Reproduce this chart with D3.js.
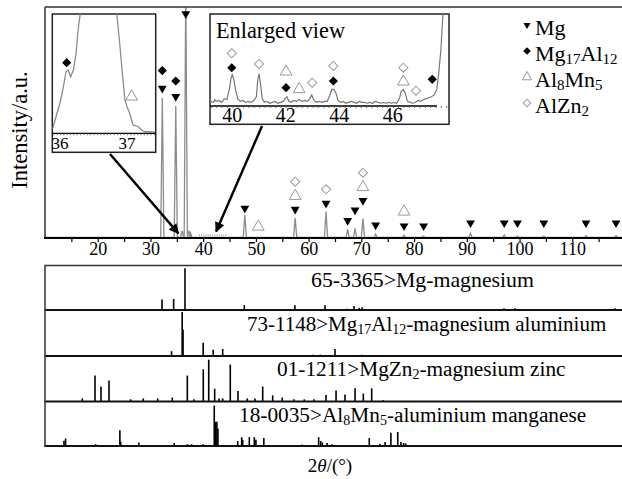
<!DOCTYPE html>
<html><head><meta charset="utf-8">
<script src="https://cdn.jsdelivr.net/npm/d3@7/dist/d3.min.js"></script>
<style>body{margin:0;background:#fff}svg{display:block}svg text{font-family:"Liberation Serif","Times New Roman",serif}</style>
</head><body><svg width="622" height="479"></svg>
<script>
// ---------- DATA ----------
// main pattern peaks [2theta, intensity]
const mainPeaks = [[32.25,60.5],[34.8,57],[36.0,3],[36.7,110],[37.3,3],[37.6,2],[47.9,9.8],[57.45,8.4],[63.3,11.3],[67.4,3.6],[68.8,4],[70.3,8.2],[72.7,1.5],[78.1,1],[81.8,0.6],[90.7,1.8],[97.1,1.1],[99.6,0.6],[104.6,0.6],[112.6,0.8],[118.3,0.8]];
const noiseRange = [39.2, 44.5];
// phase markers in main panel [2theta, level]
const mgMarks = [[32.25,64.7],[34.8,61.1],[36.7,97],[47.9,12.7],[57.45,12.2],[63.3,14.8],[67.4,7.3],[68.8,11.9],[70.3,16],[72.7,5.4],[78.1,5],[81.8,5],[90.7,6.3],[97.1,6.3],[99.6,6.3],[104.6,6.3],[112.6,6.3],[118.3,6.3]];
const mg17Marks = [[32.25,72.4],[34.8,67.9]];
const al8Marks = [[50.45,4.7],[57.45,18],[70.3,21.8],[78.1,11.2]];
const alzn2Marks = [[57.45,24.2],[63.3,20.9],[70.3,28.1]];
const mainTicks = [20,30,40,50,60,70,80,90,100,110];

// left inset curve
const inset1Curve = [[35.88,4],[35.9,5.5],[35.94,13.9],[36.0,25.4],[36.05,39],[36.09,51.6],[36.12,53],[36.16,47.4],[36.2,53],[36.24,67],[36.27,86.6],[36.3,99.2],[36.33,120],[36.6,200],[36.82,120],[36.85,99.2],[36.9,70],[36.94,44.7],[36.97,27.9],[37.0,22.3],[37.04,16.8],[37.09,7],[37.17,5.5],[37.22,2.8],[37.27,1.3],[37.32,1.3],[37.42,1]];
const inset1Ticks = [36,37];
const inset1Mg17 = [[36.1,59.2]];
const inset1Al8 = [[37.07,30.7]];

// right inset ("Enlarged view") curve
const inset2Curve = [[39.16,5],[39.2,5],[39.3,4],[39.35,7],[39.4,5],[39.5,6],[39.6,4],[39.7,8],[39.8,7],[39.9,20],[39.95,30],[40.0,34],[40.05,30],[40.12,18],[40.2,8],[40.3,5],[40.4,6],[40.5,4],[40.6,5],[40.7,4],[40.8,6],[40.9,10],[40.95,28],[41.0,35],[41.05,25],[41.12,8],[41.2,4],[41.3,5],[41.4,3],[41.5,4],[41.6,5],[41.7,3],[41.8,4],[41.9,5],[42.0,9],[42.05,10],[42.12,5],[42.2,4],[42.3,6],[42.4,5],[42.5,7],[42.6,5],[42.7,6],[42.8,5],[42.9,8],[42.97,12],[43.05,6],[43.15,4],[43.25,5],[43.35,4],[43.45,5],[43.55,5],[43.65,12],[43.72,18],[43.8,18],[43.88,14],[43.95,6],[44.05,4],[44.15,5],[44.25,3],[44.35,4],[44.45,5],[44.55,4],[44.65,3],[44.75,5],[44.85,4],[44.95,4],[45.05,3],[45.15,4],[45.25,3],[45.35,5],[45.45,4],[45.55,3],[45.65,4],[45.75,3],[45.85,4],[45.95,3],[46.05,4],[46.15,3],[46.25,8],[46.32,16],[46.4,18],[46.47,14],[46.55,5],[46.65,4],[46.75,3],[46.85,4],[46.95,6],[47.05,5],[47.15,7],[47.25,8],[47.35,9],[47.45,10],[47.55,12],[47.65,18],[47.72,35],[47.8,60],[47.86,90],[47.92,120]];
const inset2Ticks = [40,42,44,46];
const inset2AlZn2 = [[39.98,57.3],[41.0,45.7],[42.99,25.3],[43.78,43.5],[46.4,41.6],[46.87,16.6]];
const inset2Mg17 = [[39.98,41.6],[42.01,19.9],[43.78,27.2],[47.48,29.0]];
const inset2Al8 = [[42.01,37.3],[42.5,18.2],[46.4,26.4]];

// reference stick patterns [2theta, relative intensity]
const refMg = [[32.2,24],[34.4,25],[36.55,95],[47.8,11],[57.4,11],[63.1,11],[67.3,3],[68.6,9],[69.6,5],[70.15,6],[72.5,2],[77.8,2],[81.5,2],[90.5,2],[97.05,4],[99.1,4],[104.2,2],[108.3,2],[112.4,2],[118.1,4]];
const refMg17 = [[20.3,2],[23.7,2],[28.0,2],[34.0,11],[36.02,100],[36.18,60],[40.0,30],[41.9,14],[43.7,16],[46.0,2],[50.0,2],[54.0,2],[60.8,3],[62.2,3],[65.0,16],[70.1,3],[73.2,2],[76.4,2],[77.9,2]];
const refMgZn2 = [[17.07,7],[19.48,59],[20.62,34],[22.14,48],[26.25,5],[28.64,7],[31.37,7],[34.14,9],[36.99,59],[38.26,5],[40.02,73],[41.05,95],[42.18,29],[43.0,7],[43.7,7],[45.14,84],[46.6,24],[48.37,7],[49.83,7],[51.29,34],[53.18,14],[55.0,9],[57.2,5],[59.18,5],[61.0,5],[63.3,15],[65.2,25],[66.9,16],[68.8,30],[70.37,18],[71.96,30],[74.16,3]];
const refAl8Mn5 = [[13.6,12],[13.9,17],[19.6,4],[24.2,36],[24.35,10],[27.8,8],[34.5,7],[37.0,4],[37.8,4],[40.0,4],[42.1,92],[42.35,55],[42.6,55],[42.8,40],[46.55,11],[47.3,20],[47.5,14],[48.75,20],[49.7,20],[50.0,14],[51.5,18],[58.7,3],[61.9,20],[62.3,11],[62.6,8],[63.5,7],[64.4,4],[71.5,18],[73.5,5],[74.5,9],[75.6,30],[76.9,32],[77.5,9],[78.0,7],[78.4,6]];
const refLabels = [
  [["65-3365>Mg-magnesium",0]],
  [["73-1148>Mg",0],["17",1],["Al",0],["12",1],["-magnesium aluminium",0]],
  [["01-1211>MgZn",0],["2",1],["-magnesium zinc",0]],
  [["18-0035>Al",0],["8",1],["Mn",0],["5",1],["-aluminium manganese",0]]
];
const legendLabels = [
  [["Mg",0]],
  [["Mg",0],["17",1],["Al",0],["12",1]],
  [["Al",0],["8",1],["Mn",0],["5",1]],
  [["AlZn",0],["2",1]]
];

// ---------- DRAW ----------
const FONT = '"Liberation Serif","Times New Roman",serif';
const svg = d3.select("svg");
const GRAY = "#8c8c8c";
const x = d3.scaleLinear().domain([10,120]).range([45,625]);
const yMain = d3.scaleLinear().domain([0,100]).range([237.5,7]);

function rich(g, px, py, parts, size, subSize, anchor){
  const t = g.append("text").attr("x",px).attr("y",py).attr("font-size",size).attr("font-family",FONT).attr("fill","#000");
  if(anchor) t.attr("text-anchor",anchor);
  parts.forEach(p=>{
    t.append("tspan").attr("font-size", p[1]?subSize:size)
      .attr("baseline-shift", p[1]? "-22%" : null).text(p[0]);
  });
  return t;
}
const symTri = d3.symbol().type(d3.symbolTriangle);
const symSq = d3.symbol().type(d3.symbolSquare);
function marks(g, data, sx, sy, kind, sz){
  g.selectAll(null).data(data).join("path")
    .attr("transform", d=>`translate(${sx(d[0])},${sy(d[1])}) rotate(${kind.startsWith("tri")?(kind==="triDown"?180:0):45})`)
    .attr("d", kind.startsWith("tri") ? symTri.size(sz)() : symSq.size(sz)())
    .attr("fill", kind==="triDown"||kind==="diaFill" ? "#000" : "#fff")
    .attr("stroke", kind==="triOpen"||kind==="diaOpen" ? "#999" : "none")
    .attr("stroke-width", 1);
}

// main panel
const defs = svg.append("defs");
defs.append("clipPath").attr("id","mainClip").append("rect")
  .attr("x",45).attr("y",7).attr("width",580).attr("height",231);
const pts = [[10,0]];
mainPeaks.forEach(p=>{ pts.push([p[0]-0.3,0],[p[0],p[1]],[p[0]+0.3,0]); });
pts.push([120,0]);
svg.append("path").attr("clip-path","url(#mainClip)").attr("d", d3.line().x(d=>x(d[0])).y(d=>yMain(d[1]))(pts))
  .attr("fill","none").attr("stroke",GRAY).attr("stroke-width",1.3);
svg.append("line").attr("x1",x(noiseRange[0])).attr("x2",x(noiseRange[1])).attr("y1",yMain(1)).attr("y2",yMain(1))
  .attr("stroke",GRAY).attr("stroke-width",1.2).attr("stroke-dasharray","1,1.2");

// frame
svg.append("line").attr("x1",45).attr("x2",622).attr("y1",7).attr("y2",7).attr("stroke","#333").attr("stroke-width",1.5);
svg.append("line").attr("x1",45).attr("x2",45).attr("y1",7).attr("y2",238).attr("stroke","#333").attr("stroke-width",1.5);
const xAxis = d3.axisBottom(x).tickValues(d3.range(15,120,5)).tickSize(4).tickFormat(d=>mainTicks.includes(d)?d:"");
const ax = svg.append("g").attr("transform","translate(0,238)").call(xAxis).attr("font-family",FONT);
ax.select(".domain").attr("stroke","#000").attr("stroke-width",2).attr("d","M44,0H622");
ax.selectAll(".tick line").attr("stroke","#000").attr("stroke-width",1.2);
ax.selectAll(".tick text").attr("font-size",18).attr("font-family",FONT).attr("fill","#000").attr("dy","0.55em");

// main markers
const mk = svg.append("g");
marks(mk, mgMarks, x, yMain, "triDown", 34);
marks(mk, mg17Marks, x, yMain, "diaFill", 42);
marks(mk, al8Marks, x, yMain, "triOpen", 60);
marks(mk, alzn2Marks, x, yMain, "diaOpen", 42);

// y label
svg.append("text").attr("transform","translate(27,130) rotate(-90)").attr("text-anchor","middle")
  .attr("font-family",FONT).attr("font-size",22.5).text("Intensity/a.u.");

// legend
const lg = svg.append("g");
const legKinds = ["triDown","diaFill","triOpen","diaOpen"];
const legSizes = [22,30,40,30];
legendLabels.forEach((lab,i)=>{
  const by = 35 + i*26;
  rich(lg, 535, by, lab, 22, 15);
  marks(lg, [[0,0]], ()=>527, ()=>by-10, legKinds[i], legSizes[i]);
});

// left inset
const i1 = svg.append("g");
const x1 = d3.scaleLinear().domain([36,37]).range([60,127]);
const y1 = d3.scaleLinear().domain([0,100]).range([133.3,14]);
defs.append("clipPath").attr("id","c1").append("rect").attr("x",52.3).attr("y",14).attr("width",103.4).attr("height",138.3);
i1.append("rect").attr("x",52.3).attr("y",14).attr("width",103.4).attr("height",138.3).attr("fill","#fff").attr("stroke","#222").attr("stroke-width",1.5);
i1.append("path").attr("clip-path","url(#c1)").attr("d", d3.line().x(d=>x1(d[0])).y(d=>y1(d[1]))(inset1Curve))
  .attr("fill","none").attr("stroke",GRAY).attr("stroke-width",1.3);
const i1ax = i1.append("g").attr("transform","translate(0,133.3)")
  .call(d3.axisBottom(x1).tickValues(d3.range(35.9,37.43,0.05)).tickSize(2).tickFormat(""));
i1ax.select(".domain").attr("d","M52.3,0H155.7").attr("stroke","#000").attr("stroke-width",1.3);
i1ax.selectAll(".tick line").attr("stroke","#555").attr("stroke-width",0.8);
inset1Ticks.forEach(t=>i1.append("text").attr("x",x1(t)).attr("y",149).attr("text-anchor","middle").attr("font-family",FONT).attr("font-size",17).text(t));
marks(i1, inset1Mg17, x1, y1, "diaFill", 42);
marks(i1, inset1Al8, x1, y1, "triOpen", 60);

// right inset
const i2 = svg.append("g");
const x2 = d3.scaleLinear().domain([40,46]).range([232.3,392.7]);
const y2 = d3.scaleLinear().domain([0,100]).range([106,14]);
defs.append("clipPath").attr("id","c2").append("rect").attr("x",210).attr("y",14).attr("width",239).attr("height",110.3);
i2.append("rect").attr("x",210).attr("y",14).attr("width",239).attr("height",110.3).attr("fill","#fff").attr("stroke","#222").attr("stroke-width",1.5);
i2.append("path").attr("clip-path","url(#c2)").attr("d", d3.line().x(d=>x2(d[0])).y(d=>y2(d[1]))(inset2Curve))
  .attr("fill","none").attr("stroke","#777").attr("stroke-width",1.2);
const i2ax = i2.append("g").attr("transform","translate(0,106)")
  .call(d3.axisBottom(x2).tickValues(d3.range(39.2,48.05,0.2)).tickSize(2).tickFormat(""));
i2ax.select(".domain").attr("d","M210,0H437").attr("stroke","#000").attr("stroke-width",1.3);
i2ax.selectAll(".tick line").attr("stroke","#555").attr("stroke-width",0.8);
inset2Ticks.forEach(t=>i2.append("text").attr("x",x2(t)).attr("y",121.5).attr("text-anchor","middle").attr("font-family",FONT).attr("font-size",20).text(t));
i2.append("text").attr("x",216).attr("y",38).attr("font-family",FONT).attr("font-size",22.3).text("Enlarged view");
marks(i2, inset2AlZn2, x2, y2, "diaOpen", 42);
marks(i2, inset2Mg17, x2, y2, "diaFill", 42);
marks(i2, inset2Al8, x2, y2, "triOpen", 60);

// arrows
defs.append("marker").attr("id","ah").attr("viewBox","0 0 10 10").attr("refX",9).attr("refY",5)
  .attr("markerWidth",12).attr("markerHeight",10).attr("markerUnits","userSpaceOnUse").attr("orient","auto")
  .append("path").attr("d","M0,0L10,5L0,10z").attr("fill","#000");
const arrowTargets = [[35.3,1.8],[42.45,2.6]];
const arrowStarts = [[110,154],[262,126]];
arrowTargets.forEach((t,i)=>{
  svg.append("line").attr("x1",arrowStarts[i][0]).attr("y1",arrowStarts[i][1])
    .attr("x2",x(t[0])).attr("y2",yMain(t[1])).attr("stroke","#000").attr("stroke-width",2.4)
    .attr("marker-end","url(#ah)");
});

// reference panels
const refs = [refMg, refMg17, refMgZn2, refAl8Mn5];
const bases = [310, 356, 401.5, 446];
const labX = [311, 247, 277, 239];
const labY = [287, 330.5, 376, 421.5];
const labSize = [21.8, 21, 21.3, 21.3];
const bp = svg.append("g");
refs.forEach((r,i)=>{
  const ys = d3.scaleLinear().domain([0,100]).range([bases[i], bases[i]-44]);
  bp.selectAll(null).data(r).join("line")
    .attr("x1",d=>x(d[0])).attr("x2",d=>x(d[0])).attr("y1",bases[i]).attr("y2",d=>ys(d[1]))
    .attr("stroke","#000").attr("stroke-width",1.6);
  rich(bp, labX[i], labY[i], refLabels[i], labSize[i], 14);
});
[265.5].concat(bases).forEach((b,i)=>{
  bp.append("line").attr("x1",44.5).attr("x2",622).attr("y1",b).attr("y2",b).attr("stroke", i===0?"#333":"#111").attr("stroke-width",i===0?1.5:2);
});
bp.append("line").attr("x1",45).attr("x2",45).attr("y1",265.5).attr("y2",447).attr("stroke","#333").attr("stroke-width",1.5);

// x label
const xl = svg.append("text").attr("x",330).attr("y",472).attr("text-anchor","middle").attr("font-family",FONT).attr("font-size",19);
xl.append("tspan").text("2");
xl.append("tspan").attr("font-style","italic").text("θ");
xl.append("tspan").text("/(°)");
</script></body></html>
